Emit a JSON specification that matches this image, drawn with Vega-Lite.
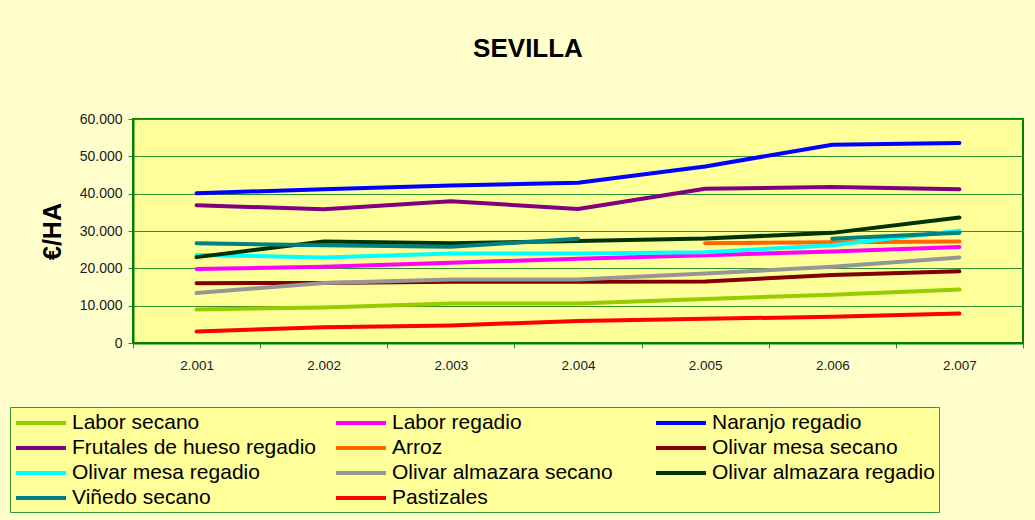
{
  "$schema": "https://vega.github.io/schema/vega-lite/v6.json",
  "width": 890,
  "height": 224,
  "autosize": {"type": "none"},
  "padding": {"left": 133, "top": 119, "right": 12, "bottom": 177},
  "background": "#FFFFCC",
  "title": {
    "text": "SEVILLA",
    "anchor": "middle",
    "frame": "group",
    "dx": -50,
    "offset": 50,
    "fontSize": 26,
    "font": "Liberation Sans",
    "fontWeight": "bold",
    "color": "#000000"
  },
  "config": {
    "font": "Liberation Sans",
    "view": {"fill": "#FFFF99", "stroke": "#008000", "strokeWidth": 2}
  },
  "data": {
    "values": [
      {"year": 2001, "serie": "Labor secano", "seg": "a", "value": 9000},
      {"year": 2002, "serie": "Labor secano", "seg": "a", "value": 9500},
      {"year": 2003, "serie": "Labor secano", "seg": "a", "value": 10600},
      {"year": 2004, "serie": "Labor secano", "seg": "a", "value": 10600},
      {"year": 2005, "serie": "Labor secano", "seg": "a", "value": 11800},
      {"year": 2006, "serie": "Labor secano", "seg": "a", "value": 12900},
      {"year": 2007, "serie": "Labor secano", "seg": "a", "value": 14300},
      {"year": 2001, "serie": "Labor regadio", "seg": "a", "value": 19800},
      {"year": 2002, "serie": "Labor regadio", "seg": "a", "value": 20400},
      {"year": 2003, "serie": "Labor regadio", "seg": "a", "value": 21500},
      {"year": 2004, "serie": "Labor regadio", "seg": "a", "value": 22600},
      {"year": 2005, "serie": "Labor regadio", "seg": "a", "value": 23500},
      {"year": 2006, "serie": "Labor regadio", "seg": "a", "value": 24500},
      {"year": 2007, "serie": "Labor regadio", "seg": "a", "value": 25700},
      {"year": 2001, "serie": "Naranjo regadio", "seg": "a", "value": 40100},
      {"year": 2002, "serie": "Naranjo regadio", "seg": "a", "value": 41200},
      {"year": 2003, "serie": "Naranjo regadio", "seg": "a", "value": 42200},
      {"year": 2004, "serie": "Naranjo regadio", "seg": "a", "value": 42900},
      {"year": 2005, "serie": "Naranjo regadio", "seg": "a", "value": 47300},
      {"year": 2006, "serie": "Naranjo regadio", "seg": "a", "value": 53100},
      {"year": 2007, "serie": "Naranjo regadio", "seg": "a", "value": 53600},
      {"year": 2001, "serie": "Frutales de hueso regadio", "seg": "a", "value": 36900},
      {"year": 2002, "serie": "Frutales de hueso regadio", "seg": "a", "value": 35800},
      {"year": 2003, "serie": "Frutales de hueso regadio", "seg": "a", "value": 38000},
      {"year": 2004, "serie": "Frutales de hueso regadio", "seg": "a", "value": 35900},
      {"year": 2005, "serie": "Frutales de hueso regadio", "seg": "a", "value": 41300},
      {"year": 2006, "serie": "Frutales de hueso regadio", "seg": "a", "value": 41800},
      {"year": 2007, "serie": "Frutales de hueso regadio", "seg": "a", "value": 41200},
      {"year": 2005, "serie": "Arroz", "seg": "a", "value": 26700},
      {"year": 2006, "serie": "Arroz", "seg": "a", "value": 27000},
      {"year": 2007, "serie": "Arroz", "seg": "a", "value": 27200},
      {"year": 2001, "serie": "Olivar mesa secano", "seg": "a", "value": 16000},
      {"year": 2002, "serie": "Olivar mesa secano", "seg": "a", "value": 16100},
      {"year": 2003, "serie": "Olivar mesa secano", "seg": "a", "value": 16400},
      {"year": 2004, "serie": "Olivar mesa secano", "seg": "a", "value": 16400},
      {"year": 2005, "serie": "Olivar mesa secano", "seg": "a", "value": 16500},
      {"year": 2006, "serie": "Olivar mesa secano", "seg": "a", "value": 18200},
      {"year": 2007, "serie": "Olivar mesa secano", "seg": "a", "value": 19200},
      {"year": 2001, "serie": "Olivar mesa regadio", "seg": "a", "value": 23600},
      {"year": 2002, "serie": "Olivar mesa regadio", "seg": "a", "value": 22900},
      {"year": 2003, "serie": "Olivar mesa regadio", "seg": "a", "value": 24000},
      {"year": 2004, "serie": "Olivar mesa regadio", "seg": "a", "value": 24000},
      {"year": 2005, "serie": "Olivar mesa regadio", "seg": "a", "value": 24300},
      {"year": 2006, "serie": "Olivar mesa regadio", "seg": "a", "value": 26200},
      {"year": 2007, "serie": "Olivar mesa regadio", "seg": "a", "value": 30100},
      {"year": 2001, "serie": "Olivar almazara secano", "seg": "a", "value": 13400},
      {"year": 2002, "serie": "Olivar almazara secano", "seg": "a", "value": 16100},
      {"year": 2003, "serie": "Olivar almazara secano", "seg": "a", "value": 17000},
      {"year": 2004, "serie": "Olivar almazara secano", "seg": "a", "value": 17000},
      {"year": 2005, "serie": "Olivar almazara secano", "seg": "a", "value": 18600},
      {"year": 2006, "serie": "Olivar almazara secano", "seg": "a", "value": 20400},
      {"year": 2007, "serie": "Olivar almazara secano", "seg": "a", "value": 22900},
      {"year": 2001, "serie": "Olivar almazara regadio", "seg": "a", "value": 23000},
      {"year": 2002, "serie": "Olivar almazara regadio", "seg": "a", "value": 27200},
      {"year": 2003, "serie": "Olivar almazara regadio", "seg": "a", "value": 26700},
      {"year": 2004, "serie": "Olivar almazara regadio", "seg": "a", "value": 27300},
      {"year": 2005, "serie": "Olivar almazara regadio", "seg": "a", "value": 28000},
      {"year": 2006, "serie": "Olivar almazara regadio", "seg": "a", "value": 29500},
      {"year": 2007, "serie": "Olivar almazara regadio", "seg": "a", "value": 33600},
      {"year": 2001, "serie": "Viñedo secano", "seg": "a", "value": 26700},
      {"year": 2002, "serie": "Viñedo secano", "seg": "a", "value": 26200},
      {"year": 2003, "serie": "Viñedo secano", "seg": "a", "value": 25800},
      {"year": 2004, "serie": "Viñedo secano", "seg": "a", "value": 27900},
      {"year": 2006, "serie": "Viñedo secano", "seg": "b", "value": 27900},
      {"year": 2007, "serie": "Viñedo secano", "seg": "b", "value": 29500},
      {"year": 2001, "serie": "Pastizales", "seg": "a", "value": 3100},
      {"year": 2002, "serie": "Pastizales", "seg": "a", "value": 4200},
      {"year": 2003, "serie": "Pastizales", "seg": "a", "value": 4700},
      {"year": 2004, "serie": "Pastizales", "seg": "a", "value": 5900},
      {"year": 2005, "serie": "Pastizales", "seg": "a", "value": 6500},
      {"year": 2006, "serie": "Pastizales", "seg": "a", "value": 7000},
      {"year": 2007, "serie": "Pastizales", "seg": "a", "value": 7900}
    ]
  },
  "mark": {"type": "line", "strokeWidth": 4, "strokeCap": "round", "strokeJoin": "round"},
  "encoding": {
    "x": {
      "field": "year",
      "type": "ordinal",
      "scale": {"type": "band", "paddingInner": 0, "paddingOuter": 0},
      "axis": {
        "title": null,
        "tickBand": "extent",
        "labelAngle": 0,
        "labelExpr": "isNumber(datum.value) && datum.value > 0 ? replace(format(datum.value, ','), ',', '.') : ''",
        "labelFontSize": 13.5,
        "labelColor": "#1a1a1a",
        "labelPadding": 10,
        "tickSize": 5,
        "tickColor": "#2f8f2f",
        "domainColor": "#008000",
        "domainWidth": 2,
        "grid": false
      }
    },
    "y": {
      "field": "value",
      "type": "quantitative",
      "scale": {"domain": [0, 60000], "nice": false},
      "axis": {
        "title": "€/HA",
        "titleFontSize": 25,
        "titleFontWeight": "bold",
        "titleColor": "#000000",
        "titlePadding": 14,
        "values": [0, 10000, 20000, 30000, 40000, 50000, 60000],
        "labelExpr": "replace(format(datum.value, ','), ',', '.')",
        "labelFontSize": 14,
        "labelColor": "#1a1a1a",
        "labelPadding": 6,
        "tickSize": 5,
        "tickColor": "#2f8f2f",
        "domainColor": "#008000",
        "domainWidth": 2,
        "grid": true,
        "gridColor": "#2f8f2f",
        "gridWidth": 1
      }
    },
    "detail": {"field": "seg", "type": "nominal"},
    "color": {
      "field": "serie",
      "type": "nominal",
      "scale": {
        "domain": ["Labor secano", "Labor regadio", "Naranjo regadio", "Frutales de hueso regadio", "Arroz", "Olivar mesa secano", "Olivar mesa regadio", "Olivar almazara secano", "Olivar almazara regadio", "Viñedo secano", "Pastizales"],
        "range": ["#99CC00", "#FF00FF", "#0000FF", "#800080", "#FF6600", "#800000", "#00FFFF", "#969696", "#003300", "#008080", "#FF0000"]
      },
      "legend": {
        "title": null,
        "orient": "none",
        "legendX": -123,
        "legendY": 288,
        "columns": 3,
        "direction": "horizontal",
        "gridAlign": "all",
        "columnPadding": 12,
        "rowPadding": 3,
        "padding": 4,
        "fillColor": "#FFFF99",
        "strokeColor": "#339933",
        "symbolType": "M-1,0H4",
        "symbolSize": 400,
        "symbolStrokeWidth": 4,
        "symbolOpacity": 1,
        "labelFontSize": 21,
        "labelColor": "#000000",
        "labelOffset": 34,
        "labelLimit": 400
      }
    }
  }
}
